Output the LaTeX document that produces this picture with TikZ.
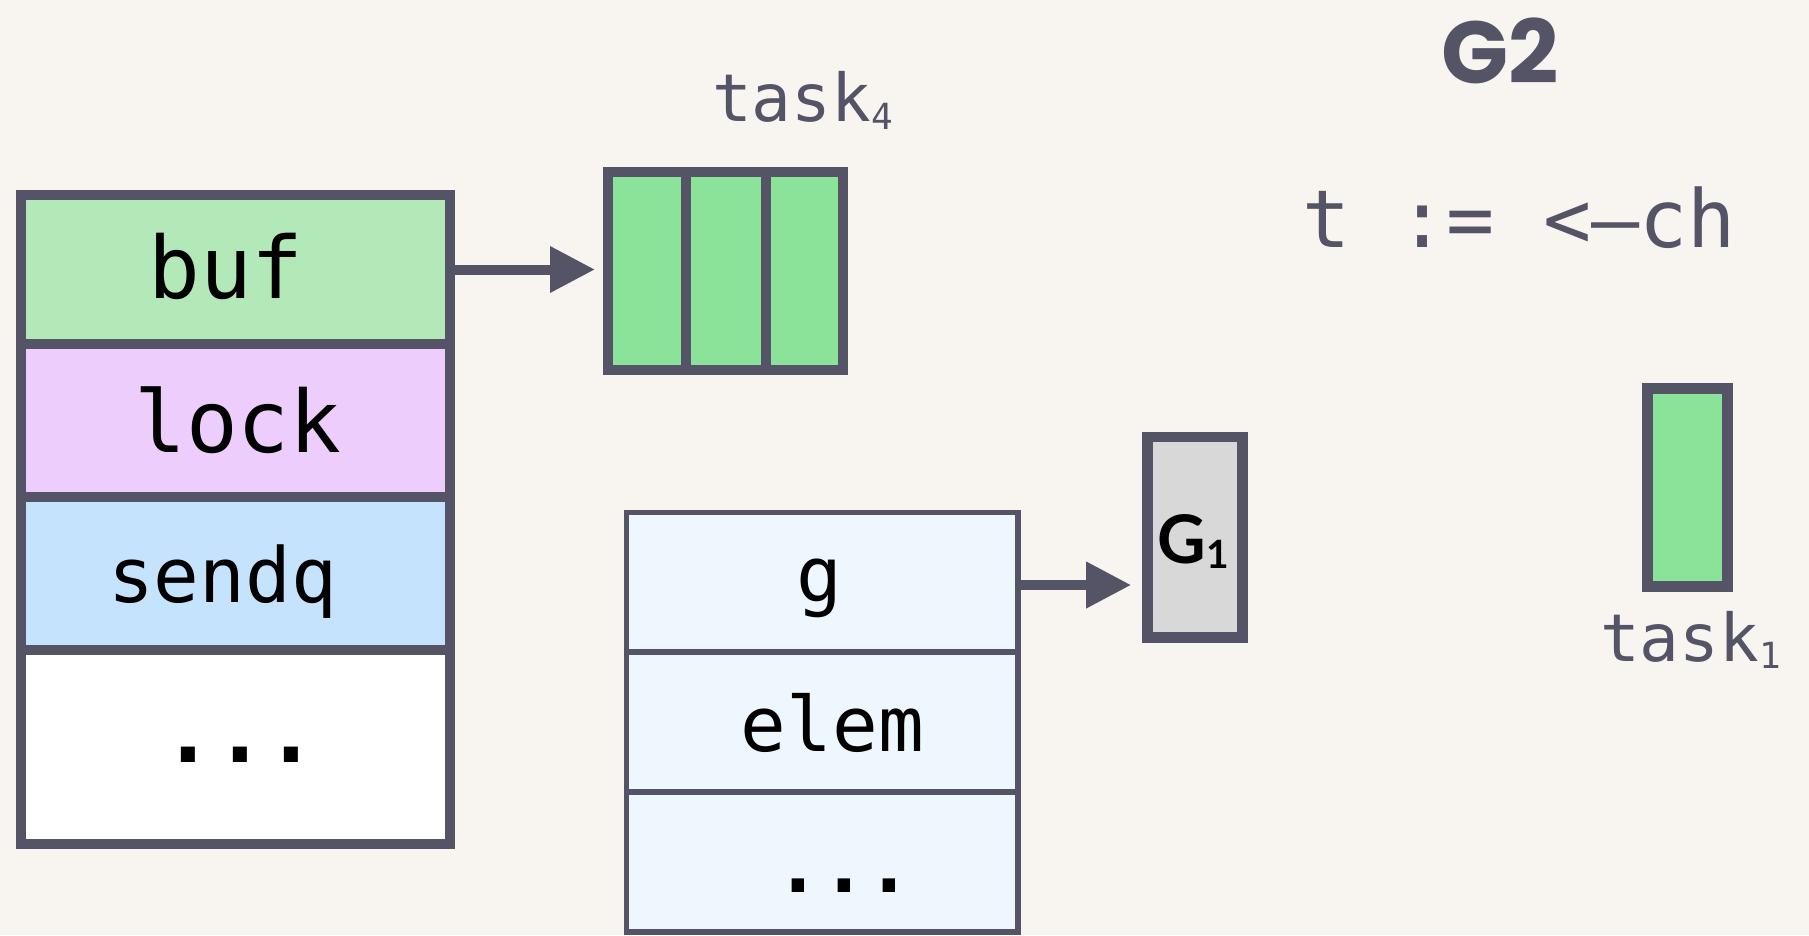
\documentclass[tikz,border=0pt]{standalone}
\usepackage{fontspec}
\setmainfont{DejaVu Sans}
\newfontfamily\monof{DejaVu Sans Mono}
\newfontfamily\headf{Poppins}
\newfontfamily\gfont{Lato}
\usetikzlibrary{arrows.meta}
\definecolor{bg}{HTML}{F8F5F0}
\definecolor{ink}{HTML}{545466}
\definecolor{bufc}{HTML}{B3E9B8}
\definecolor{lockc}{HTML}{EDCDFB}
\definecolor{sendc}{HTML}{C5E3FD}
\definecolor{taskc}{HTML}{8AE398}
\definecolor{gc}{HTML}{D8D8D8}
\definecolor{sudc}{HTML}{EFF7FE}
\newcommand{\subdig}[1]{\raisebox{-7.5pt}{\fontsize{36}{36}\selectfont #1}}
\begin{document}
\begin{tikzpicture}[x=1pt,y=-1pt,
  field/.style={draw=ink, line width=10.5pt, rectangle, inner sep=0pt, outer sep=0pt, minimum width=429pt},
  cell/.style={draw=ink, fill=taskc, line width=10.5pt, rectangle, inner sep=0pt, outer sep=0pt, minimum height=198pt},
  sfield/.style={draw=ink, fill=sudc, line width=5.5pt, rectangle, inner sep=0pt, outer sep=0pt, minimum width=391.5pt, minimum height=140pt},
  code/.style={font=\monof\fontsize{86}{86}\selectfont, text=black, anchor=base, inner sep=0pt},
  scode/.style={font=\monof\fontsize{76}{76}\selectfont, text=black, anchor=base, inner sep=0pt},
  lbl/.style={font=\monof\fontsize{66}{66}\selectfont, text=ink, anchor=base west, inner sep=0pt},
  ptr/.style={draw=ink, line width=10pt, -{Triangle[length=45pt,width=44pt]}}
]
\fill[bg] (0,0) rectangle (1809,935);
\useasboundingbox (0,0) rectangle (1809,935);

% hchan struct
\node[field, fill=bufc, minimum height=149pt] (buf) at (235.5,269.5) {};
\node[field, fill=lockc, minimum height=153pt] (lock) at (235.5,420.5) {};
\node[field, fill=sendc, minimum height=153pt] (sendq) at (235.5,573.5) {};
\node[field, fill=white, minimum height=194pt] (more) at (235.5,747) {};
\node[code] (tbuf) at (226,298) {buf};
\node[code] (tlock) at (238,452.7) {lock};
\node[scode] (tsendq) at (222.5,602.7) {sendq};
\node[code, font=\monof\bfseries\fontsize{86}{86}\selectfont] (tmore) at (240,762) {...};

% buffer
\node[cell, minimum width=78pt] (c1) at (647,271) {};
\node[cell, minimum width=80pt] (c2) at (726,271) {};
\node[cell, minimum width=77pt] (c3) at (804.5,271) {};
\node[lbl] (l4) at (712,121.7) {task\subdig{4}};

\draw[ptr, shorten >=13pt] (buf.east) -- (buf.east -| c1.west);

% sudog
\node[sfield] (g) at (822.25,582.25) {};
\node[sfield] (elem) at (822.25,722) {};
\node[sfield] (more2) at (822.25,862) {};
\node[scode] (tg) at (819.7,601) {g};
\node[scode] (telem) at (832.5,751.7) {elem};
\node[scode, font=\monof\bfseries\fontsize{76}{76}\selectfont] (tmore2) at (844,892) {...};

% G1
\node[draw=ink, fill=gc, line width=10.5pt, rectangle, inner sep=0pt, outer sep=0pt, minimum width=95pt, minimum height=200.5pt] (G1) at (1195.2,537.2) {};
\node[font=\gfont\bfseries\fontsize{67}{67}\selectfont, text=black, anchor=base, inner sep=0pt] (tG1) at (1193,563) {G\raisebox{-5pt}{\fontsize{39}{39}\selectfont 1}};

\coordinate (gs) at ([yshift=-2.75pt]g.east);
\draw[ptr, shorten >=16.5pt] (gs) -- (gs -| G1.west);

% G2 side
\node[font=\headf\bfseries\fontsize{88}{88}\selectfont, text=ink, anchor=base, inner sep=0pt] (G2) at (1500,83) {G2};
\node[font=\monof\fontsize{80}{80}\selectfont, text=ink, anchor=base, inner sep=0pt] (expr) at (1519,247) {t := <—ch};
\node[draw=ink, fill=taskc, line width=11pt, rectangle, inner sep=0pt, outer sep=0pt, minimum width=80pt, minimum height=197.5pt] (t1) at (1687.5,487.25) {};
\node[lbl] (l1) at (1600,661) {task\subdig{1}};
\end{tikzpicture}
\end{document}
